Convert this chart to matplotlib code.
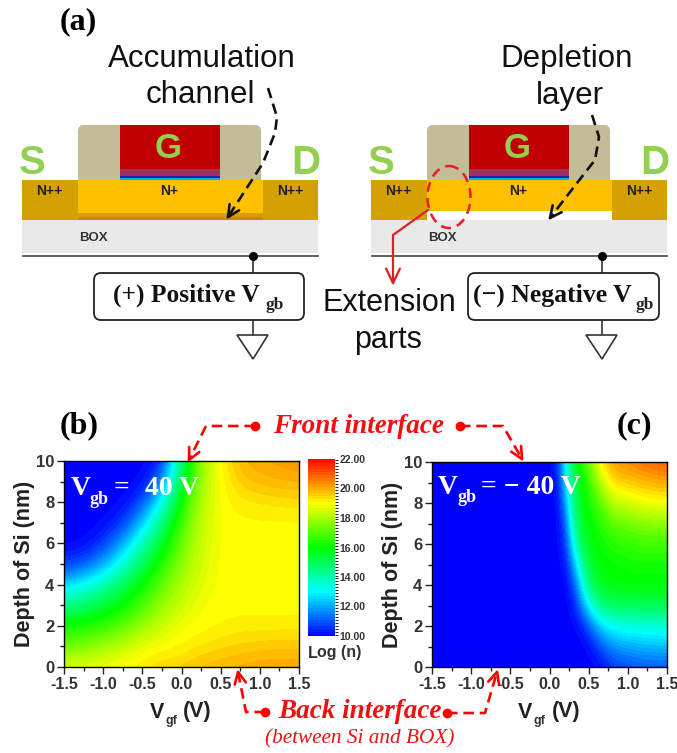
import numpy as np
import matplotlib
matplotlib.use('Agg')
import matplotlib.pyplot as plt
from matplotlib.colors import LinearSegmentedColormap, BoundaryNorm
from matplotlib.patches import Rectangle, FancyBboxPatch, Ellipse, Polygon

W, H = 677, 753
SANS = 'Liberation Sans'
SERIF = 'Liberation Serif'
plt.rcParams['axes.unicode_minus'] = False

# Log(n), rows go from depth 0 to depth 10 nm
depth = [0, 1, 2, 3, 4, 5, 6, 7, 8, 9, 10]
vgf_b = [-1.5, -1.25, -1.0, -0.75, -0.5, -0.25, 0, 0.25, 0.5, 0.75, 1.0, 1.25, 1.5]
log_n_b = [
    [18.7, 18.8, 18.9, 19.1, 19.3, 19.5, 19.6, 19.8, 19.9, 20.0, 20.1, 20.1, 20.1],
    [17.3, 17.5, 17.9, 18.3, 18.8, 19.0, 19.1, 19.3, 19.45, 19.55, 19.6, 19.65, 19.65],
    [16.2, 16.3, 16.6, 17.1, 17.8, 18.4, 18.9, 19.0, 19.1, 19.2, 19.2, 19.2, 19.2],
    [14.4, 14.8, 15.4, 16.0, 16.9, 17.8, 18.4, 18.9, 19.0, 19.0, 19.0, 19.0, 19.0],
    [12.5, 13.2, 13.9, 15.0, 16.0, 17.2, 18.1, 18.7, 19.0, 19.0, 19.0, 19.0, 19.0],
    [10.6, 11.0, 12.0, 13.5, 15.0, 16.4, 17.7, 18.5, 19.0, 19.0, 19.0, 19.0, 19.0],
    [10.0, 10.0, 10.6, 12.0, 13.8, 15.6, 17.3, 18.4, 19.0, 19.0, 19.0, 19.0, 19.0],
    [10.0, 10.0, 10.0, 10.6, 12.4, 14.6, 16.8, 18.3, 19.0, 19.05, 19.05, 19.05, 19.05],
    [10.0, 10.0, 10.0, 10.0, 10.8, 13.2, 16.2, 18.2, 19.0, 19.2, 19.3, 19.35, 19.4],
    [10.0, 10.0, 10.0, 10.0, 10.0, 11.5, 15.4, 18.0, 19.0, 19.6, 19.8, 19.9, 19.95],
    [10.0, 10.0, 10.0, 10.0, 10.0, 10.2, 14.8, 17.8, 19.1, 19.9, 20.1, 20.2, 20.3],
]
vgf_c = [-1.5, -1.4, -1.3, -1.2, -1.1, -1.0, -0.9, -0.8, -0.7, -0.6, -0.5, -0.4, -0.3, -0.2, -0.1,
         0.0, 0.1, 0.2, 0.3, 0.4, 0.5, 0.6, 0.7, 0.8, 0.9, 1.0, 1.1, 1.2, 1.3, 1.4, 1.5]
blue_left = [10.0] * 15  # everything left of 0 V is flat blue
log_n_c = [
    blue_left + [10, 10, 10, 10, 10, 10, 10, 10.2, 10.5, 10.7, 10.8, 10.9, 11, 11, 11, 11],
    blue_left + [10, 10, 10, 10, 10, 10.1, 10.6, 11.2, 11.7, 11.9, 12, 12.1, 12.2, 12.2, 12.3, 12.3],
    blue_left + [10, 10, 10, 10, 10.2, 11, 12, 12.7, 13.1, 13.2, 13.3, 13.3, 13.4, 13.4, 13.4, 13.4],
    blue_left + [10, 10, 10, 10.2, 11.5, 13, 14.2, 14.7, 14.9, 15, 15, 15, 15.1, 15.1, 15.1, 15.1],
    blue_left + [10, 10, 10, 10.8, 12.6, 14.6, 15.4, 15.7, 15.9, 15.95, 16, 16, 16, 16, 16, 16],
    blue_left + [10, 10, 10.2, 11.8, 14, 15.3, 15.8, 15.95, 16.05, 16.1, 16.1, 16.2, 16.2, 16.2, 16.2, 16.2],
    blue_left + [10, 10, 10.6, 13, 15, 15.6, 16, 16.2, 16.4, 16.5, 16.6, 16.65, 16.7, 16.7, 16.7, 16.7],
    blue_left + [10, 10, 11, 14, 15.4, 15.9, 16.3, 16.6, 17, 17.2, 17.3, 17.45, 17.6, 17.65, 17.7, 17.7],
    blue_left + [10, 10, 11.8, 14.4, 15.6, 16.2, 16.8, 17.4, 18.1, 18.4, 18.5, 18.6, 18.8, 18.85, 18.9, 18.9],
    blue_left + [10, 10.2, 12.5, 14.8, 15.9, 16.6, 17.6, 18.6, 19.3, 19.5, 19.6, 19.7, 19.85, 19.9, 20, 20],
    blue_left + [10, 10.5, 13, 15.2, 16.3, 17.3, 18.6, 19.6, 20.1, 20.4, 20.5, 20.6, 20.75, 20.85, 20.95, 21],
]
cbar_ticks = [10, 12, 14, 16, 18, 20, 22]
x_ticks = [-1.5, -1.0, -0.5, 0.0, 0.5, 1.0, 1.5]
y_ticks = [0, 2, 4, 6, 8, 10]


def px_axes(x0, y0, x1, y1):
    return fig.add_axes([x0 / W, 1 - y1 / H, (x1 - x0) / W, (y1 - y0) / H])


fig = plt.figure(figsize=(W / 100, H / 100), dpi=100)
rainbow = LinearSegmentedColormap.from_list(
    'rb', ['#0000ff', '#00ffff', '#00ff00', '#ffff00', '#ff0000'])
# band edges sit off the whole numbers so the flat 19 plateau stays one colour
levels = np.concatenate([[10], np.arange(10.1, 22, 0.2), [22]])
norm = BoundaryNorm(levels, 256)


def contour_panel(box, xs, zs):
    ax = px_axes(*box)
    dx = (xs[1] - xs[0]) / 2
    im = ax.imshow(zs, origin='lower', aspect='auto', cmap=rainbow, norm=norm,
                   extent=[xs[0] - dx, xs[-1] + dx, depth[0] - 0.5, depth[-1] + 0.5],
                   interpolation='bicubic', interpolation_stage='data')
    ax.set_xlim(-1.5, 1.5)
    ax.set_ylim(0, 10)
    ax.set_xticks(x_ticks)
    ax.set_xticks(np.arange(-1.25, 1.5, 0.5), minor=True)
    ax.set_yticks(y_ticks)
    ax.set_yticks(np.arange(1, 10, 2), minor=True)
    ax.tick_params(which='major', length=5, width=1, pad=2, color='#222222')
    ax.tick_params(which='minor', length=3, width=1, color='#222222')
    for lab in ax.get_xticklabels():
        lab.set(family=SANS, weight='bold', size=11.5, color='#333333')
    for lab in ax.get_yticklabels():
        lab.set(family=SANS, weight='bold', size=12, color='#333333')
    ax.set_ylabel('Depth of Si (nm)', family=SANS, weight='bold', size=15.5,
                  color='#222222', labelpad=1)
    for s in ax.spines.values():
        s.set_linewidth(1)
    return im


im = contour_panel((64, 461, 299, 667), vgf_b, log_n_b)
contour_panel((432, 462, 667, 667), vgf_c, log_n_c)

cax = px_axes(308, 459, 335, 636)
cb = fig.colorbar(im, cax=cax, ticks=cbar_ticks, extend='neither', format='%.2f',
                  spacing='proportional', drawedges=False)
cb.outline.set_visible(False)
cb.ax.tick_params(length=0, pad=3)
for lab in cb.ax.get_yticklabels():
    lab.set(family=SANS, weight='bold', size=7.5, color='#333333')

# overlay in picture pixels for the device sketches and annotations
ov = fig.add_axes([0, 0, 1, 1], zorder=5)
ov.set_xlim(0, W)
ov.set_ylim(H, 0)
ov.axis('off')


def box(x0, y0, x1, y1, color, z=1):
    ov.add_patch(Rectangle((x0, y0), x1 - x0, y1 - y0, fc=color, ec='none', zorder=z))


def txt(x, y, s, size, family=SANS, color='#111111', **kw):
    ov.text(x, y, s, fontsize=size, family=family, color=color,
            ha=kw.pop('ha', 'center'), va=kw.pop('va', 'center'), zorder=8, **kw)


def device(dx, depleted):
    box(22 + dx, 220, 318 + dx, 253, '#e9e9e9')
    ov.add_patch(FancyBboxPatch((78 + dx, 125), 183, 65,
                                boxstyle='round,pad=0,rounding_size=6',
                                fc='#c4bc96', ec='none', lw=0, zorder=1))
    box(22 + dx, 180, 78 + dx, 220, '#d4a100', 2)
    box(263 + dx, 180, 318 + dx, 220, '#d4a100', 2)
    if depleted:
        box(78 + dx, 180, 263 + dx, 211, '#ffc000', 2)
        box(78 + dx, 211, 263 + dx, 220, 'white', 2)
    else:
        box(78 + dx, 180, 263 + dx, 213, '#ffc000', 2)
        box(78 + dx, 213, 263 + dx, 217, '#dc9c08', 2)
        box(78 + dx, 217, 263 + dx, 220, '#c58a10', 2)
    box(120 + dx, 125, 220 + dx, 169, '#c00000', 3)
    box(120 + dx, 169, 220 + dx, 176, '#a0305f', 3)
    box(120 + dx, 176, 220 + dx, 178, '#2020a0', 3)
    box(120 + dx, 178, 220 + dx, 180, '#00b0f0', 3)
    ov.plot([23 + dx, 318 + dx], [255.5, 255.5], color='#444444', lw=1.2, zorder=3)
    ov.plot([253 + dx, 253 + dx], [256, 335], color='#333333', lw=1.2, zorder=3)
    ov.plot([253 + dx], [256], 'o', color='black', ms=5.5, zorder=4)
    ov.add_patch(Polygon([(237 + dx, 335), (268 + dx, 335), (253 + dx, 359)],
                         fc='white', ec='#333333', lw=1.2, zorder=4))
    txt(168 + dx, 148, 'G', 25, color='#92d050', weight='bold')
    txt(32 + dx, 163, 'S', 29, color='#92d050', weight='bold')
    txt(306 + dx, 163, 'D', 29, color='#92d050', weight='bold')
    txt(49 + dx, 191, 'N++', 10, weight='bold', color='#222222')
    txt(290 + dx, 191, 'N++', 10, weight='bold', color='#222222')
    txt(169 + dx, 191, 'N+', 10, weight='bold', color='#222222')
    txt(93 + dx, 238, 'BOX', 9.5, weight='bold', color='#333333')


def round_box(x0, y0, x1, y1):
    ov.add_patch(FancyBboxPatch((x0 + 6, y0 + 6), x1 - x0 - 12, y1 - y0 - 12,
                                boxstyle='round,pad=6,rounding_size=7',
                                fc='white', ec='#222222', lw=1.3, zorder=6))


def arrow_head(p0, p1, color, lw, size=13):
    # two short barbs at the end of a leader line
    p0, p1 = np.array(p0, float), np.array(p1, float)
    a = np.arctan2(*(p0 - p1)[::-1])
    for t in (a - 0.45, a + 0.45):
        ov.plot([p1[0], p1[0] + size * np.cos(t)], [p1[1], p1[1] + size * np.sin(t)],
                color=color, lw=lw, zorder=9, solid_capstyle='round')


def leader(pts, color='red', dot=True, lw=1.9, ls=(0, (4, 2.2))):
    xs, ys = zip(*pts)
    ov.plot(xs, ys, color=color, lw=lw, ls=ls, zorder=9)
    if dot:
        ov.plot(xs[0], ys[0], 'o', color=color, ms=6, zorder=9)
    arrow_head(pts[-2], pts[-1], color, lw)


device(0, False)
device(349, True)
round_box(94, 273, 304, 320)
round_box(468, 273, 659, 320)

txt(78, 22, '(a)', 23, family=SERIF, weight='bold', color='black')
txt(202, 59, 'Accumulation', 22.5)
txt(200, 95, 'channel', 22.5)
txt(567, 59, 'Depletion', 22.5)
txt(570, 96, 'layer', 22.5)
txt(389, 303, 'Extension', 22)
txt(388, 340, 'parts', 22)

txt(113, 295, '(+) Positive V', 18.3, family=SERIF, weight='bold', ha='left')
txt(265, 305, 'gb', 12.5, family=SERIF, weight='bold', ha='left', color='#222222')
txt(473, 295, '(\u2212) Negative V', 18.5, family=SERIF, weight='bold', ha='left')
txt(635, 305, 'gb', 12.5, family=SERIF, weight='bold', ha='left', color='#222222')

# dashed black arrows to the channel and the depletion edge
leader([(268, 88), (277, 117), (275, 133), (263, 163), (228, 217)],
       color='#111111', dot=False)
leader([(592, 115), (599, 137), (595, 160), (577, 183), (550, 218)],
       color='#111111', dot=False)

ov.add_patch(Ellipse((449, 197), 43, 62, fc='none', ec='#e81c24', lw=1.8,
                     ls=(0, (4, 2.5)), zorder=9))
ov.plot([428, 393, 393], [210, 235, 283], color='#e81c24', lw=1.6, zorder=9)
arrow_head((393, 235), (393, 283), '#e81c24', 1.6, size=16)

txt(79, 426, '(b)', 23, family=SERIF, weight='bold', color='black')
txt(634, 426, '(c)', 23, family=SERIF, weight='bold', color='black')
txt(358, 426, 'Front interface', 19.5, family=SERIF, weight='bold', style='italic', color='#f01010')
txt(360, 712, 'Back interface', 19.5, family=SERIF, weight='bold', style='italic', color='#f01010')
txt(360, 739, '(between Si and BOX)', 15.3, family=SERIF, style='italic', color='#f01010')
leader([(255, 426), (206, 426), (189, 460)])
leader([(460, 426), (503, 426), (522, 459)])
leader([(265, 712), (246, 712), (238, 672)])
leader([(447, 713), (485, 713), (497, 672)])

txt(71, 488, 'V', 20, family=SERIF, weight='bold', color='white', ha='left')
txt(90, 499, 'gb', 13, family=SERIF, weight='bold', color='white', ha='left')
txt(114, 488, '=', 20, family=SERIF, weight='bold', color='white', ha='left')
txt(145, 488, '40 V', 20, family=SERIF, weight='bold', color='white', ha='left')
txt(438, 487, 'V', 20, family=SERIF, weight='bold', color='white', ha='left')
txt(458, 497, 'gb', 13, family=SERIF, weight='bold', color='white', ha='left')
txt(481, 487, '= \u2212 40 V', 20, family=SERIF, weight='bold', color='white', ha='left')

for x0, sub_x, end_x in [(150, 165, 183), (518, 533, 552)]:
    txt(x0, 712, 'V', 15.5, weight='bold', color='#222222', ha='left')
    txt(sub_x, 721, 'gf', 9, weight='bold', color='#333333', ha='left')
    txt(end_x, 712, '(V)', 15.5, weight='bold', color='#222222', ha='left')

txt(308, 653, 'L', 11.5, weight='bold', color='#333333', ha='left')
txt(317, 653, 'og (n)', 11.5, weight='bold', color='#333333', ha='left')

fig.savefig('out.png', dpi=100)
